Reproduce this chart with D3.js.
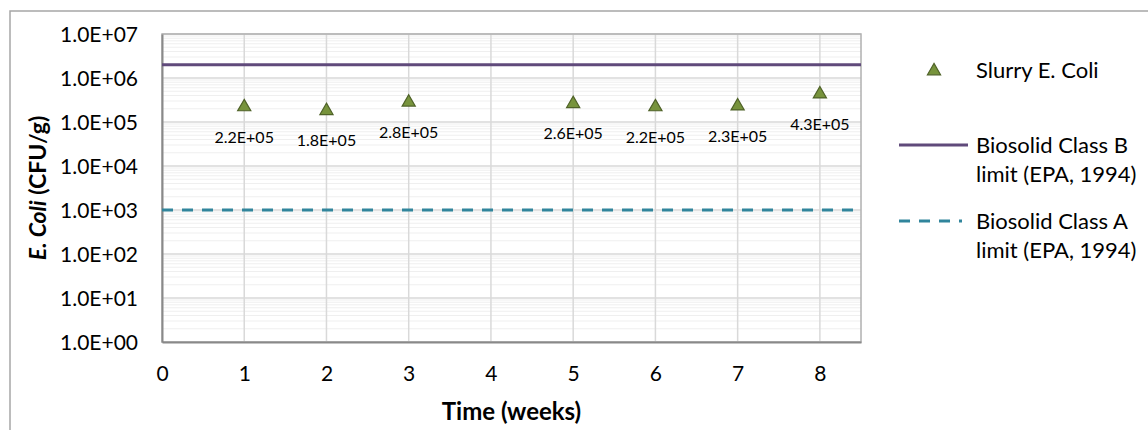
<!DOCTYPE html>
<html>
<head>
<meta charset="utf-8">
<script src="https://cdn.jsdelivr.net/npm/d3@7"></script>
<style>
  body { margin: 0; background: #fff; }
  text { font-family: Lato, "Open Sans", sans-serif; fill: #000; }
</style>
</head>
<body>
<script>
const weeks = [1, 2, 3, 5, 6, 7, 8];
const slurryEColi = [2.2e5, 1.8e5, 2.8e5, 2.6e5, 2.2e5, 2.3e5, 4.3e5];
const pointLabels = ["2.2E+05", "1.8E+05", "2.8E+05", "2.6E+05", "2.2E+05", "2.3E+05", "4.3E+05"];
const classBLimit = 2e6;
const classALimit = 1e3;
const xTicks = [0, 1, 2, 3, 4, 5, 6, 7, 8];
const yTicks = [1e0, 1e1, 1e2, 1e3, 1e4, 1e5, 1e6, 1e7];
const legendLabels = [["Slurry E. Coli"], ["Biosolid Class B", "limit (EPA, 1994)"], ["Biosolid Class A", "limit (EPA, 1994)"]];

const width = 1148, height = 430;
const plot = { left: 162, top: 34, right: 861, bottom: 342 };

const svg = d3.select("body").append("svg")
  .attr("width", width)
  .attr("height", height);

// outer chart frame
svg.append("rect")
  .attr("x", 10).attr("y", 11)
  .attr("width", width + 20).attr("height", height + 20)
  .attr("fill", "#fff")
  .attr("stroke", "#a6a6a6")
  .attr("stroke-width", 1.5);

const x = d3.scaleLinear().domain([0, 8.5]).range([plot.left, plot.right]);
const y = d3.scaleLog().domain([1, 1e7]).range([plot.bottom, plot.top]);

// minor horizontal grid
const minor = [];
for (let e = 0; e < 7; e++) for (let m = 2; m <= 9; m++) minor.push(m * Math.pow(10, e));

svg.append("g").selectAll("line")
  .data(minor)
  .join("line")
  .attr("x1", plot.left).attr("x2", plot.right)
  .attr("y1", d => y(d)).attr("y2", d => y(d))
  .attr("stroke", "#efefef")
  .attr("stroke-width", 1);

// major grid
svg.append("g").selectAll("line")
  .data(yTicks)
  .join("line")
  .attr("x1", plot.left).attr("x2", plot.right)
  .attr("y1", d => y(d)).attr("y2", d => y(d))
  .attr("stroke", "#d9d9d9")
  .attr("stroke-width", 1.5);

svg.append("g").selectAll("line")
  .data(xTicks.slice(1))
  .join("line")
  .attr("x1", d => x(d)).attr("x2", d => x(d))
  .attr("y1", plot.top).attr("y2", plot.bottom)
  .attr("stroke", "#d9d9d9")
  .attr("stroke-width", 1.5);

// plot border
svg.append("rect")
  .attr("x", plot.left).attr("y", plot.top)
  .attr("width", plot.right - plot.left).attr("height", plot.bottom - plot.top)
  .attr("fill", "none")
  .attr("stroke", "#b0b0b0")
  .attr("stroke-width", 1.5);

// axes
const yAxis = svg.append("g")
  .attr("transform", `translate(${plot.left},0)`)
  .call(d3.axisLeft(y).tickValues(yTicks).tickSize(0).tickPadding(24)
    .tickFormat(d => "1.0E+" + String(Math.round(Math.log10(d))).padStart(2, "0")));
yAxis.select(".domain").attr("stroke", "#898989").attr("stroke-width", 2);
yAxis.selectAll("text").style("font-size", "21px").attr("dy", "0.36em");

const xAxis = svg.append("g")
  .attr("transform", `translate(0,${plot.bottom})`)
  .call(d3.axisBottom(x).tickValues(xTicks).tickSize(0).tickPadding(24).tickFormat(d3.format("d")));
xAxis.select(".domain").attr("stroke", "#898989").attr("stroke-width", 2);
xAxis.selectAll("text").style("font-size", "21px");

// limit lines
svg.append("line")
  .attr("x1", plot.left).attr("x2", plot.right)
  .attr("y1", y(classBLimit)).attr("y2", y(classBLimit))
  .attr("stroke", "#604a7b").attr("stroke-width", 3);

svg.append("line")
  .attr("x1", plot.left).attr("x2", plot.right)
  .attr("y1", y(classALimit)).attr("y2", y(classALimit))
  .attr("stroke", "#31859c").attr("stroke-width", 3)
  .attr("stroke-dasharray", "11,9");

// points
const tri = d3.symbol().type(d3.symbolTriangle).size(75);
const data = weeks.map((w, i) => ({ w, v: slurryEColi[i], label: pointLabels[i] }));

svg.append("g").selectAll("path")
  .data(data)
  .join("path")
  .attr("d", tri)
  .attr("transform", d => `translate(${x(d.w)},${y(d.v)})`)
  .attr("fill", "#77933c")
  .attr("stroke", "#4f6228")
  .attr("stroke-width", 1.2);

svg.append("g").selectAll("text")
  .data(data)
  .join("text")
  .attr("x", d => x(d.w))
  .attr("y", d => y(d.v) + 30)
  .attr("dy", "0.35em")
  .attr("text-anchor", "middle")
  .style("font-size", "16px")
  .text(d => d.label);

// axis titles
svg.append("text")
  .attr("x", (plot.left + plot.right) / 2)
  .attr("y", 412)
  .attr("dy", "0.35em")
  .attr("text-anchor", "middle")
  .style("font-size", "24px")
  .style("font-weight", "bold")
  .text("Time (weeks)");

const yTitle = svg.append("text")
  .attr("transform", `translate(38,${(plot.top + plot.bottom) / 2}) rotate(-90)`)
  .attr("dy", "0.35em")
  .attr("text-anchor", "middle")
  .style("font-size", "23px")
  .style("font-weight", "bold");
yTitle.append("tspan").style("font-style", "italic").text("E. Coli");
yTitle.append("tspan").text(" (CFU/g)");

// legend
const legend = svg.append("g");
legend.append("path")
  .attr("d", tri)
  .attr("transform", "translate(934,71)")
  .attr("fill", "#77933c")
  .attr("stroke", "#4f6228")
  .attr("stroke-width", 1.2);
legend.append("line")
  .attr("x1", 899).attr("x2", 968).attr("y1", 145).attr("y2", 145)
  .attr("stroke", "#604a7b").attr("stroke-width", 3);
legend.append("line")
  .attr("x1", 899).attr("x2", 962).attr("y1", 221).attr("y2", 221)
  .attr("stroke", "#31859c").attr("stroke-width", 3)
  .attr("stroke-dasharray", "11,9");

const legendY = [70, 145, 221];
legendLabels.forEach((lines, i) => {
  const t = legend.append("text")
    .attr("x", 976)
    .attr("y", legendY[i])
    .style("font-size", "22px");
  lines.forEach((l, j) => {
    t.append("tspan").attr("x", 976).attr("dy", j === 0 ? "0.35em" : "29px").text(l);
  });
});
</script>
</body>
</html>
